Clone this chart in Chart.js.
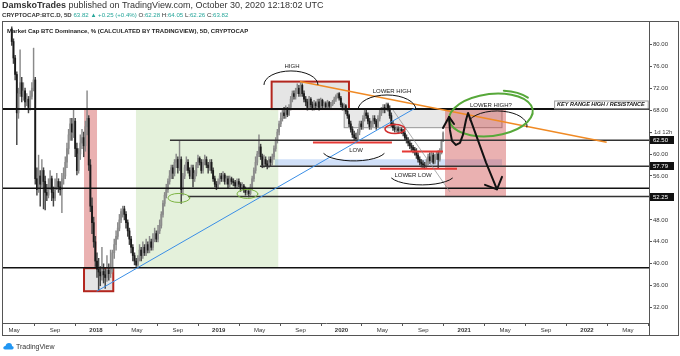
<!DOCTYPE html>
<html><head><meta charset="utf-8">
<script src="https://cdn.jsdelivr.net/npm/chart.js@4.4.0/dist/chart.umd.min.js"></script>
<style>
html,body{margin:0;padding:0;background:#fff;width:680px;height:356px;overflow:hidden;font-family:"Liberation Sans",Arial,sans-serif;color:#333}
#wrap{position:absolute;left:0;top:0;width:680px;height:356px}
canvas{position:absolute;left:0;top:0}
.h{position:absolute;white-space:nowrap;line-height:10px}
#h1{left:2px;top:0px;font-size:9px}
#h2{left:2px;top:10px;font-size:6.1px}
#ttl{left:7px;top:26px;font-weight:bold;font-size:6px;color:#222}
.g{color:#26a69a}
#tv{position:absolute;left:3px;top:342px;font-size:7px;color:#333;display:flex;align-items:center;gap:2px}
</style></head>
<body>
<div id="wrap">
<canvas id="c" width="680" height="356"></canvas>
<div class="h" id="h1"><b>DamskoTrades</b> published on TradingView.com, October 30, 2020 12:18:02 UTC</div>
<div class="h" id="h2"><b>CRYPTOCAP:BTC.D, 5D</b> <span class="g">63.82 ▲ +0.25 (+0.4%)</span> O:<span class="g">62.28</span> H:<span class="g">64.05</span> L:<span class="g">62.26</span> C:<span class="g">63.82</span></div>
<div class="h" id="ttl">Market Cap BTC Dominance, % (CALCULATED BY TRADINGVIEW), 5D, CRYPTOCAP</div>
<div id="tv"><svg width="11" height="8" viewBox="0 0 11 8"><path d="M2 7.5 Q0 7.5 0.3 5.5 Q0.8 3.8 2.5 4 Q3 1 6 1 Q9 1.2 9 4 Q11 4.3 10.7 6 Q10.3 7.5 8.5 7.5 Z" fill="#2196f3"/></svg><span>TradingView</span></div>
</div>
<script>
// ---- data: 5-day candles, last candle 2020-10-30 ----
const lastCandle = [2020, 10, 30];
const candleDays = 5;
const firstOpen = 82.8;
const closes = [
80.5,77.5,74.5, 67.5, 71,73,70.5,71.5, 69.5,70,68.5,70.5,72, 73.5, 55.5,
53.5,56,54.5,57,55,53,52.5,54,55.5,53,52,54,55,54,53.5,55.5,
56,58.5,61,63.5,65.5,64,66, 61,57,60,62, 63,61.5,65,66.5, 58,50.5,47.5,44, 40.5,39,
38.5,37.8,38.6,38,37.5,38.8,38.2,39, 42,43.5,45,46.5,48,49.5,50,
49,47.5,46,44.5,43,41.5,40.5,39.8,
41,42.5,41.5,43,42,43.5,42.5,44,43,44.5,45.5,44.5,46,47,
49,51,52.5,53.5,55,56, 57.5,56.5,58.5,59,57.5,59, 53.5,56,
57.5,58.5,57,56,57.5,55.5,56.5,58,59.2,58.5,57,58.5, 59,58,57.5,58.5, 57,55.5,54.5,54,55,
56,55.5,56.2,55,55.5,54.5,55.5,55,54.8,54.2,55,54.5,53.8,54.2,53.5,53,53.2, 52.8,
54,55.5,57,58.5,60,61.3, 59.5,58,59,58.2,57.8,59,58.5,59.5, 61,62.5,64,65.5,66.5,
67.5,67,68,67.2,68.5, 70,71,70.5,71.5,72,71,72.5,
71,70,69.5,68.5,70,69,68.4,69.2,68.8,69.5,68.5,69.8, 68.8,69.2,68.6,69.4,68.7,69,69.5,70,
70.5,71,70.2,69, 68.5,68.8,67.8,67, 65.5,64.5,63.5,63,62.8,
64,65.5,65,66.5,67.5,67,66,65,65.5,66.5,66,65,66.5,67.5,68, 68.5,68.2,69,68.3,
67,65.5,64.8,64.5, 64.6,64.3,64.5,64.2,63.8, 63,62.5,62,61.5,61.2,60.8,60.5,
59.8,59,58.5,58.2,58,57.8, 58.5,59.5,58.8,59.8,58.5,59.5,60,59,60.2,62.28, 63.82];
const highs = [
83.2,81,78, 75, 72,79,74,73, 72,71,70.5,71.5,73, 79.3, 74,
57.5,59.8,57,59,57.5,56,54.5,55.5,57,56,54,55.5,56.5,55.5,55,56.5,
57.5,59.5,62,64.5,66.5,66.5,68, 66.5,62,61,63.5, 64.5,64,66,71.5, 67,59,52,48.5, 45,42,
41,39.5,43,40,39,41.5,40,42.5, 42.5,44.5,46,47.5,49,50,50.5,
50.5,49.5,48,46.5,45,43.5,42,41,
41.5,43.5,43,44,43.5,44.5,44,45,44.5,45.5,46.5,46,47,48,
49.5,51.5,53,54.5,55.5,57, 58,58,59,60,59.5,62.5, 59.5,56.5,
58,59.5,59,57.5,58,58,57,58.5,59.8,59.5,59,59, 59.8,59.5,58.5,59, 59,57.5,56,55,55.5,
56.5,56.5,56.8,56.5,56,56,56,55.8,55.5,55.2,55.5,55.5,54.8,54.8,54.5,54,53.8, 53.8,
54.5,56,57.5,59.5,60.5,63.5, 61.8,60,59.8,59.5,58.8,59.5,59.5,60, 61.5,63,64.5,66,67.5,
68,68.5,68.8,68.5,69, 70.5,71.5,71.5,72,72.8,72.5,73.1,
72.8,71.5,70.5,70,70.5,70.3,69.5,69.8,69.5,70,70,70.2, 70,69.5,69.5,69.8,69.6,69.4,69.8,70.4,
70.8,71.1,71.2,70.5, 69.3,69.2,69,68.3, 67.3,66,65,64.2,63.8,
64.5,66,66,67,68,68,67.5,66.5,66,67,67,66.3,67,68,68.5, 69,69,69.3,69.3,
68.8,67.5,66,65.5, 65,65,64.9,64.8,64.5, 64.2,63.5,63,62.5,62,61.6,61.2,
61,60.2,59.5,59,58.8,58.5, 59,60,60.2,60.3,60.2,60,60.5,60.6,61,62.6, 64.05];
const lows = [
79.8,76.5,73.5, 61.7, 66.5,70.5,69.5,69.8, 68.5,68.8,67.5,68,70, 71.5, 54.5,
52.5,53,50.5,54,50,49.8,51.5,52,53.5,51.5,50.5,51.5,53.5,53,52.5,49.3,
54.5,55.5,57.5,60,62.5,62.5,63, 59.5,56.2,56.5,59, 61,59.5,60.5,63.5, 57,49.5,45.5,43, 39.5,37.5,
35.2,36,37,36.5,35.5,36.8,37,37.5, 38.5,41,42.5,44.5,46,47.5,48.5,
48,46.5,45,43.5,42,40.5,39.8,39.5,
39.5,40.5,40.5,41,41.5,41.5,42,42,42.5,42.5,44,44,44,45.5,
46.5,48.5,50.5,52,53,54.5, 55.5,55.5,56,57.5,56.5,57, 51,52.5,
55.5,57,56.5,55.5,55.5,54,55,56,57.5,58,56.5,56.5, 58,57.5,56.5,57, 56.5,55,54,53.5,53.8,
54.5,55,55,54.5,54.5,53.8,54,54.5,54.2,53.8,53.8,54,53.2,53.5,53,52.5,52.6, 52.2,
52.5,53.5,55,56.5,58,59.5, 59,57.5,57.5,57.8,57.3,57.5,57.8,58, 59,60.5,62,63.5,65,
66,66.5,66.5,66.8,67, 68,69.5,70,70,71,70.5,70.5,
70.5,69.5,68.8,68,68.2,68.5,68,68,68.3,68.5,68,68.2, 68.4,68.4,68.2,68.3,68.4,68.4,68.8,69.2,
69.6,70.2,69.8,68.6, 68,68,67.3,66.5, 65,64,63,62.6,62.4,
62.5,63.5,64.5,64.5,66,66.5,65.5,64.5,64.5,65,65.5,64.5,64.8,66,67, 67.5,67.5,68,67.8,
66.5,65,64.3,64, 64,63.9,64,63.7,63.3, 62.5,62,61.5,61,60.6,60.2,59.8,
59.2,58.5,58,57.6,57.5,57.3, 57.5,58,58.3,58.5,58.2,58.2,59,57.5,58.7,60, 62.26];
// axis ticks (x in months since Jan 2017)
const monthTicks = [4,8,12,16,20,24,28,32,36,40,44,48,52,56,60,64];
const monthLabels = ['May','Sep','2018','May','Sep','2019','May','Sep','2020','May','Sep','2021','May','Sep','2022','May'];
const priceTicks = [32,36,40,44,48,56,60,68,72,76,80];
const levelMarks = [62.5, 57.79, 52.25];
const countdownText = '1d 12h';
const countdownLevel = 64.0;

// ---- derived candle geometry ----
const N = closes.length;
const opens = closes.map((c,i)=> i===0 ? firstOpen : closes[i-1]);
const lastT = Date.UTC(lastCandle[0], lastCandle[1]-1, lastCandle[2]);
function monthPos(t){const d=new Date(t);const y=d.getUTCFullYear(),m=d.getUTCMonth(),dd=d.getUTCDate();const dim=new Date(Date.UTC(y,m+1,0)).getUTCDate();return (y-2017)*12+m+(dd-1)/dim;}
const xs = closes.map((c,i)=> monthPos(lastT-(N-1-i)*candleDays*86400000));
const UP='#8c8c8c', DOWN='#1a1a1a';
const bodyCol = closes.map((c,i)=> c>=opens[i]?UP:DOWN);
const wickCol = closes.map((c,i)=> c>=opens[i]?'#8a8a8a':'#444');

// ---- annotations (data coordinates: x = month, y = %) ----
const X0=2.91, X1=66.06;
const bands = [
 {x:[10.83,12.10], y:[39.3,68.2], fill:'rgba(205,70,70,0.42)'},
 {x:[15.91,29.82], y:[39.3,68.2], fill:'rgba(130,190,90,0.22)'},
 {x:[29.5,51.69], y:[57.9,59.05], fill:'rgba(90,145,230,0.28)'},
 {x:[36.26,51.69], y:[64.8,68.2], fill:'rgba(150,150,150,0.22)', stroke:'rgba(110,110,110,0.7)', lw:1},
 {x:[46.12,52.08], y:[52.25,68.2], fill:'rgba(205,70,70,0.42)'},
 {x:[10.83,13.69], y:[35.0,39.2], fill:'rgba(150,150,150,0.25)', stroke:'#b3261e', lw:2},
 {x:[29.17,36.73], y:[68.2,73.2], fill:'rgba(150,150,150,0.25)', stroke:'#b3261e', lw:2}
];
const hlines = [
 {y:68.2, x:[X0,X1], c:'#111', w:2},
 {y:62.5, x:[19.23,X1], c:'#333', w:1.5},
 {y:57.79, x:[28.03,X1], c:'#333', w:1.5},
 {y:53.75, x:[X0,X1], c:'#111', w:1.5},
 {y:52.25, x:[20.99,X1], c:'#333', w:1.5},
 {y:39.3, x:[X0,X1], c:'#111', w:1.5},
 {y:62.1, x:[33.21,40.93], c:'#e53935', w:2},
 {y:60.45, x:[41.91,45.92], c:'#e53935', w:2},
 {y:57.3, x:[39.76,47.29], c:'#e53935', w:2}
];
const trends = [
 {p:[[31.94,73.2],[61.92,62.15]], c:'#f08a24', w:1.5},
 {p:[[12.07,35.0],[43.18,68.34]], c:'#3a8ee6', w:1},
 {p:[[41.03,68.03],[46.6,53.1]], c:'rgba(140,140,140,0.7)', w:1}
];
const arcs = [
 {c:[31.06,72.59], rx:27, ry:14, a:[Math.PI, 2*Math.PI]},
 {c:[40.45,68.03], rx:29, ry:15, a:[Math.PI, 2*Math.PI]},
 {c:[37.22,60.75], rx:32, ry:11, a:[0.1*Math.PI, 0.9*Math.PI]},
 {c:[43.87,56.38], rx:33, ry:11, a:[0.12*Math.PI, 0.88*Math.PI]},
 {c:[51.2,65.12], rx:30, ry:15, a:[Math.PI+0.4, 2*Math.PI+0.1]}
];
const ellipses = [
 {c:[20.11,52.0], rx:11, ry:4.5, rot:0, col:'#7cb342', w:1, a:[0,2*Math.PI]},
 {c:[26.81,52.73], rx:10.5, ry:4.5, rot:0, col:'#7cb342', w:1, a:[0,2*Math.PI]},
 {c:[41.23,64.55], rx:10, ry:4.5, rot:0, col:'#d32f2f', w:1.5, a:[0,2*Math.PI]},
 {c:[50.61,67.12], rx:42, ry:21, rot:-0.12, col:'#57a83a', w:2, a:[-1.0, 2*Math.PI-0.6]}
];
const labels = [
 {t:'HIGH', p:[31.16,76.04]},
 {t:'LOWER HIGH', p:[40.94,71.4]},
 {t:'LOW', p:[37.42,60.75]},
 {t:'LOWER LOW', p:[43.0,56.19]},
 {t:'LOWER HIGH?', p:[50.61,68.94]}
];
const keyBox = {t:'KEY RANGE HIGH / RESISTANCE', p:[61.36,69.03]};
const arrowPath = [[46.51,66.76],[46.60,64.39],[46.80,62.39],[47.19,61.66],[47.58,62.02],[47.87,63.48],[48.17,66.21],[48.37,67.49],[49.15,63.48],[50.12,58.49],[51.20,53.57]];
const arrowHeads = [
 {tip:[46.51,66.76], a:[45.92,64.75], b:[47.0,65.48]},
 {tip:[51.20,53.57], a:[50.03,54.39], b:[51.69,55.85]}
];

const FF = "'Liberation Sans', Arial, sans-serif";
Chart.defaults.font.family = FF;

const annot = {
 id:'annot',
 beforeDatasetsDraw(chart){
  const {ctx, chartArea:A, scales:{x,y}} = chart;
  ctx.save(); ctx.beginPath(); ctx.rect(A.left,A.top,A.width,A.height); ctx.clip();
  bands.forEach(b=>{
   const l=x.getPixelForValue(b.x[0]), r=x.getPixelForValue(b.x[1]);
   const t=y.getPixelForValue(b.y[1]), bt=y.getPixelForValue(b.y[0]);
   ctx.fillStyle=b.fill; ctx.fillRect(l,t,r-l,bt-t);
   if(b.stroke){ctx.strokeStyle=b.stroke; ctx.lineWidth=b.lw; ctx.strokeRect(l,t,r-l,bt-t);}
  });
  ctx.restore();
 },
 afterDatasetsDraw(chart){
  const {ctx, chartArea:A, scales:{x,y}} = chart;
  const P = p=>[x.getPixelForValue(p[0]), y.getPixelForValue(p[1])];
  ctx.save(); ctx.beginPath(); ctx.rect(A.left,A.top,A.width,A.height); ctx.clip();
  hlines.forEach(h=>{
   const yy=y.getPixelForValue(h.y);
   ctx.strokeStyle=h.c; ctx.lineWidth=h.w; ctx.beginPath();
   ctx.moveTo(x.getPixelForValue(h.x[0]),yy); ctx.lineTo(x.getPixelForValue(h.x[1]),yy); ctx.stroke();
  });
  trends.forEach(t=>{
   const a=P(t.p[0]), b=P(t.p[1]);
   ctx.strokeStyle=t.c; ctx.lineWidth=t.w; ctx.beginPath(); ctx.moveTo(a[0],a[1]); ctx.lineTo(b[0],b[1]); ctx.stroke();
  });
  ctx.strokeStyle='#111'; ctx.lineWidth=1;
  arcs.forEach(a=>{
   const c=P(a.c); ctx.beginPath(); ctx.ellipse(c[0],c[1],a.rx,a.ry,0,a.a[0],a.a[1]); ctx.stroke();
  });
  ctx.lineCap='round';
  ellipses.forEach(e=>{
   const c=P(e.c); ctx.strokeStyle=e.col; ctx.lineWidth=e.w; ctx.beginPath(); ctx.ellipse(c[0],c[1],e.rx,e.ry,e.rot,e.a[0],e.a[1]); ctx.stroke();
  });
  // hand-drawn overlap tail of the big green loop
  const ge=ellipses[3], gc=P(ge.c);
  ctx.strokeStyle=ge.col; ctx.lineWidth=ge.w; ctx.beginPath();
  ctx.ellipse(gc[0]+2,gc[1]-1,ge.rx+1,ge.ry+2,ge.rot,-1.25,-0.55); ctx.stroke();
  ctx.fillStyle='#1a1a1a'; ctx.font='6px '+FF; ctx.textAlign='center'; ctx.textBaseline='middle';
  labels.forEach(l=>{const p=P(l.p); ctx.fillText(l.t,p[0],p[1]);});
  // key range box
  ctx.font='italic bold 5.5px '+FF;
  const kp=P(keyBox.p); const tw=ctx.measureText(keyBox.t).width;
  ctx.fillStyle='#fff'; ctx.fillRect(kp[0]-tw/2-3,kp[1]-4,tw+6,8);
  ctx.strokeStyle='#999'; ctx.lineWidth=1; ctx.strokeRect(kp[0]-tw/2-3+0.5,kp[1]-4+0.5,tw+6,8);
  ctx.fillStyle='#111'; ctx.fillText(keyBox.t,kp[0],kp[1]+0.5);
  // arrow
  ctx.strokeStyle='#111'; ctx.lineWidth=2; ctx.lineJoin='round'; ctx.lineCap='round';
  ctx.beginPath(); arrowPath.forEach((p,i)=>{const q=P(p); i?ctx.lineTo(q[0],q[1]):ctx.moveTo(q[0],q[1]);}); ctx.stroke();
  arrowHeads.forEach(h=>{const t=P(h.tip),a=P(h.a),b=P(h.b); ctx.beginPath(); ctx.moveTo(a[0],a[1]); ctx.lineTo(t[0],t[1]); ctx.lineTo(b[0],b[1]); ctx.stroke();});
  ctx.restore();
 },
 afterDraw(chart){
  const {ctx, chartArea:A, scales:{y}} = chart;
  ctx.save();
  ctx.font='6px '+FF; ctx.textBaseline='middle'; ctx.textAlign='left';
  levelMarks.forEach(v=>{
   const yy=Math.round(y.getPixelForValue(v));
   ctx.fillStyle='#111'; ctx.fillRect(A.right+1,yy-4,24,8);
   ctx.fillStyle='#fff'; ctx.fillText(v.toFixed(2),A.right+4,yy+0.5);
  });
  const cy=y.getPixelForValue(countdownLevel);
  ctx.fillStyle='#444'; ctx.fillText(countdownText,A.right+5,cy);
  ctx.fillRect(A.right,cy,3,1);
  ctx.strokeStyle='#555'; ctx.lineWidth=1;
  ctx.strokeRect(2.5,21.5,676,314);
  ctx.beginPath(); ctx.moveTo(A.right+0.5,A.bottom); ctx.lineTo(A.right+0.5,336); ctx.stroke();
  ctx.restore();
 }
};

new Chart(document.getElementById('c'), {
 type:'bar',
 data:{datasets:[
  {data:xs.map((x,i)=>({x, y:[lows[i],highs[i]]})), backgroundColor:wickCol, barThickness:0.8, grouped:false, order:2},
  {data:xs.map((x,i)=>({x, y:[opens[i],closes[i]]})), backgroundColor:bodyCol, barThickness:1.2, grouped:false, order:1, minBarLength:1}
 ]},
 options:{
  responsive:false, animation:false, devicePixelRatio:1,
  layout:{padding:{left:3,top:22,right:3,bottom:20}},
  plugins:{legend:{display:false}, tooltip:{enabled:false}},
  scales:{
   x:{type:'linear', min:X0, max:X1, offset:false,
      afterBuildTicks:s=>{s.ticks=monthTicks.map(v=>({value:v}));},
      afterFit:s=>{s.height=13;},
      ticks:{autoSkip:false, maxRotation:0, padding:1, color:'#333',
        callback:(v,i)=>monthLabels[i],
        font:c=>({size:6, family:FF, weight:(monthLabels[c.index]||'').startsWith('20')?'bold':'normal'})},
      grid:{drawOnChartArea:false, tickLength:3, color:'#555'},
      border:{display:true, color:'#555'}},
   y:{type:'linear', position:'right', min:29.21, max:84.06,
      afterBuildTicks:s=>{s.ticks=priceTicks.map(v=>({value:v}));},
      afterFit:s=>{s.width=28;},
      ticks:{autoSkip:false, padding:1, color:'#333', font:{size:6, family:FF}, callback:v=>Number(v).toFixed(2)},
      grid:{drawOnChartArea:false, tickLength:3, color:'#555'},
      border:{display:true, color:'#555'}}
  }
 },
 plugins:[annot]
});
</script>
</body></html>
